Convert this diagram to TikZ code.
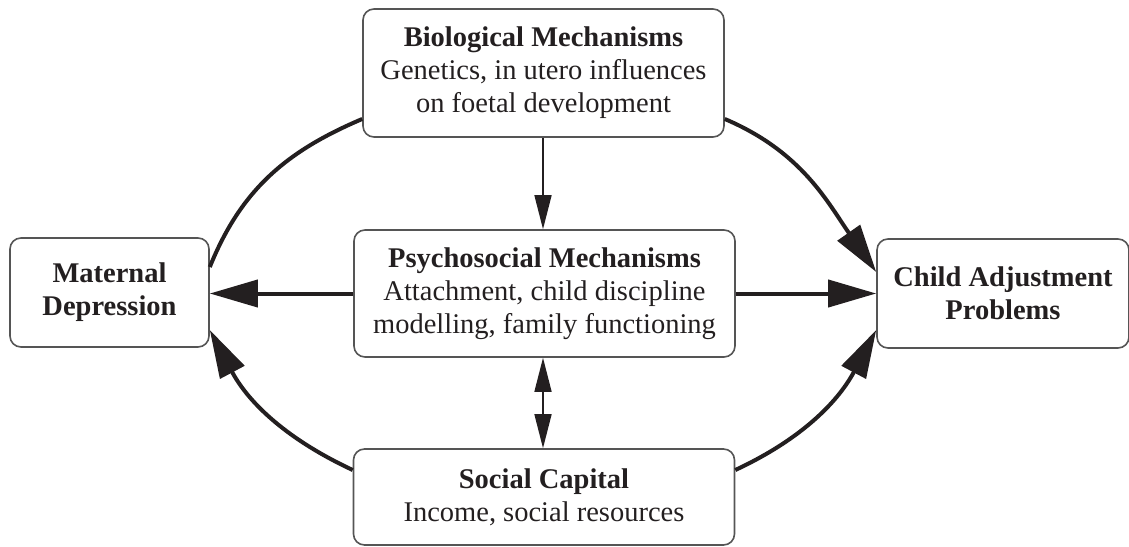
\documentclass[tikz,border=0pt]{standalone}
\usepackage{fontspec}
\setmainfont{Liberation Serif}
\usetikzlibrary{arrows.meta}
\definecolor{ink}{RGB}{35,31,32}
\definecolor{boxgray}{RGB}{85,85,85}
\begin{document}
\begin{tikzpicture}[x=1pt,y=-1pt,
  box/.style={draw=boxgray, line width=1.6pt, rounded corners=11pt, align=center,
    text=ink, font=\fontsize{28.5}{33}\selectfont, inner sep=0pt},
  bigarrow/.style={draw=ink, line width=4pt, -{Triangle[length=48pt,width=27pt]}},
  bigline/.style={draw=ink, line width=4pt},
  smallarrow/.style={draw=ink, line width=1.5pt, -{Triangle[length=34pt,width=17pt]}},
  smallboth/.style={draw=ink, line width=1.5pt, {Triangle[length=34pt,width=17pt]}-{Triangle[length=34pt,width=17pt]}}]
\useasboundingbox (0,0) rectangle (1129,546);
\clip (0,0) rectangle (1129,546);
\node[box, minimum width=361pt, minimum height=128pt] (bio) at (543.5,73)
  {\textbf{Biological Mechanisms}\\Genetics, in utero influences\\on foetal development};
\node[box, minimum width=381pt, minimum height=127pt] (psy) at (544.5,293.5)
  {\textbf{Psychosocial Mechanisms}\\Attachment, child discipline\\modelling, family functioning};
\node[box, minimum width=381pt, minimum height=96pt] (soc) at (544,497)
  {\textbf{Social Capital}\\Income, social resources};
\node[box, minimum width=199pt, minimum height=109pt] (mat) at (109.5,292.5)
  {\textbf{Maternal}\\\textbf{Depression}};
\node[box, minimum width=252pt, minimum height=109pt] (chi) at (1003,293.5)
  {\textbf{Child Adjustment}\\\textbf{Problems}};
% curves
\draw[bigline] ([yshift=-46pt]bio.west) to[out=203,in=68] ([yshift=25.5pt]mat.east);
\draw[bigarrow] ([yshift=-46pt]bio.east) to[out=-23,in=125] ([yshift=21.5pt]chi.west);
\draw[bigarrow] ([yshift=27pt]soc.west) to[out=155,in=-62] ([yshift=-37.5pt]mat.east);
\draw[bigarrow] ([yshift=27pt]soc.east) to[out=25,in=-118] ([yshift=-36.5pt]chi.west);
% horizontal
\draw[bigarrow] (psy.west) -- (psy.west -| mat.east);
\draw[bigarrow] (psy.east) -- (psy.east -| chi.west);
% vertical
\draw[smallarrow] (bio.south -| 543,0) -- (psy.north -| 543,0);
\draw[smallboth] (psy.south -| 543,0) -- (soc.north -| 543,0);
\end{tikzpicture}
\end{document}
